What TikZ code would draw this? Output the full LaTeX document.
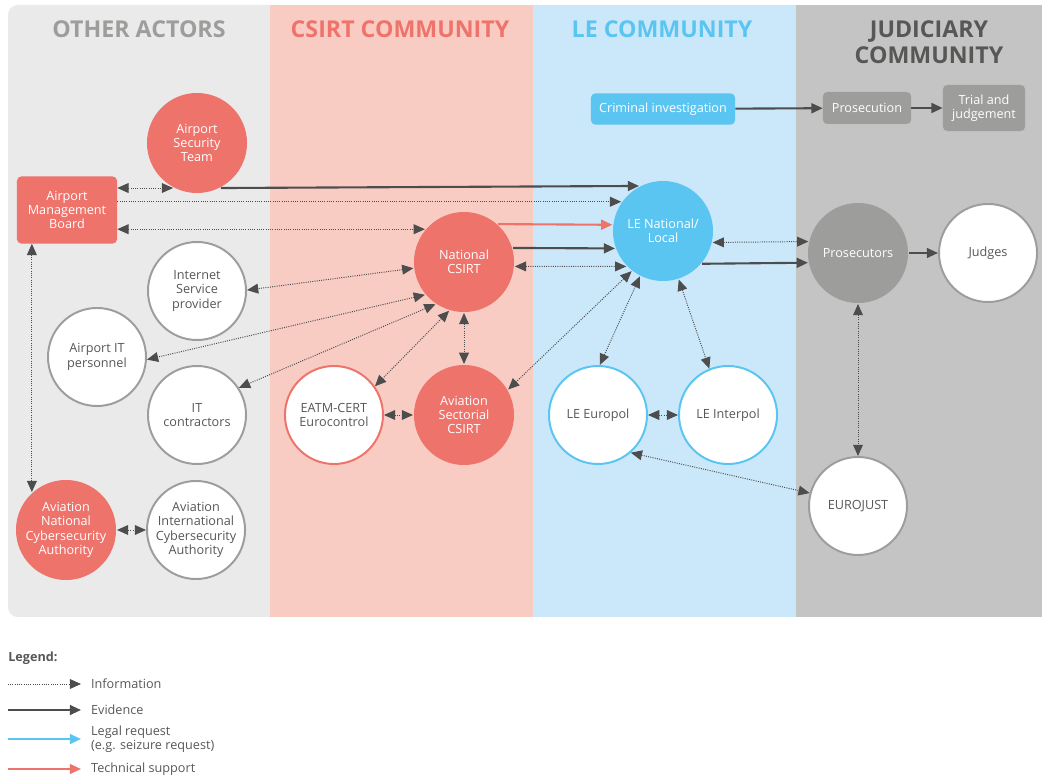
\documentclass[tikz,border=0pt]{standalone}
\usepackage{fontspec}
\setmainfont{Open Sans}
\usetikzlibrary{arrows.meta,positioning}

\definecolor{csirtred}{HTML}{EE736B}
\definecolor{leblue}{HTML}{5BC5F2}
\definecolor{judgray}{HTML}{9D9D9C}
\definecolor{darktext}{HTML}{575756}
\definecolor{arrowgray}{HTML}{4D4D4D}
\definecolor{otherpanel}{HTML}{EAEAEA}
\definecolor{csirtpanel}{HTML}{F8CCC3}
\definecolor{lepanel}{HTML}{CBE8FB}
\definecolor{judpanel}{HTML}{C4C4C4}

\newcommand{\actorfont}{\fontsize{9}{10.2}\selectfont}
\newcommand{\commtitlefont}{\fontsize{16.5}{18.5}\selectfont\bfseries}

\tikzset{
	mappicture/.style = {
		x = 0.025cm,
		y = -0.025cm,
		node distance = 3.25cm,
		font = \actorfont,
		> = {Triangle[length=8pt,width=7pt]},
		info/.style = {
			draw = arrowgray,
			line width = 0.7pt,
			dash pattern = on 0.7pt off 0.9pt,
		},
		evidence/.style = {
			draw = arrowgray,
			line width = 1.5pt,
			->,
		},
		legal/.style = {
			draw = leblue,
			line width = 1.5pt,
			->,
		},
		technical/.style = {
			draw = csirtred,
			line width = 1.5pt,
			->,
		}
	},
	actornode/.style = {
		circle,
		minimum size = 2.45cm,
		inner sep = -6pt,
		align = center,
		draw = judgray,
		line width = 1.4pt,
		fill = white,
		text = darktext
	},
	csirtnode/.style = {
		actornode,
		draw = csirtred
	},
	lenode/.style = {
		actornode,
		draw = leblue
	},
	redcircle/.style = {
		actornode,
		draw = none,
		fill = csirtred,
		minimum size = 2.5cm,
		text = white
	},
	bluecircle/.style = {
		redcircle,
		fill = leblue
	},
	graycircle/.style = {
		redcircle,
		fill = judgray
	},
	redbox/.style = {
		rectangle,
		rounded corners = 3pt,
		align = center,
		fill = csirtred,
		text = white,
		inner sep = 2pt
	},
	bluebox/.style = {
		redbox,
		fill = leblue
	},
	graybox/.style = {
		redbox,
		fill = judgray
	},
	commtitle/.style = {
		font = \commtitlefont,
		align = center
	},
	legendtext/.style = {
		anchor = west,
		align = left,
		text = darktext,
		inner xsep = 7pt
	}
}

\begin{document}
\begin{tikzpicture}[mappicture]
	\useasboundingbox (0,0) rectangle (1042,780);

	% panels
	\fill[otherpanel, rounded corners = 7pt] (8,5) rectangle (290,617);
	\fill[csirtpanel] (270,5) rectangle (533,617);
	\fill[lepanel] (533,5) rectangle (796,617);
	\fill[judpanel] (796,5) rectangle (1042,617);

	\node[commtitle, text = judgray] (othertitle) at (139,29) {OTHER ACTORS};
	\node[commtitle, text = csirtred] (csirttitle) at (400,29) {CSIRT COMMUNITY};
	\node[commtitle, text = leblue] (letitle) at (662,29) {LE COMMUNITY};
	\node[commtitle, text = darktext] (judtitle) at (929,42) {JUDICIARY\\COMMUNITY};

	% other actors
	\node[redcircle] (ast) at (197,143) {Airport\\Security\\Team};
	\node[redbox, minimum width = 2.5cm, minimum height = 1.675cm] (amb) at (67,210) {Airport\\Management\\Board};
	\node[actornode] (isp) at (197,291) {Internet\\Service\\provider};
	\node[actornode] (aitp) at (97,357) {Airport IT\\personnel};
	\node[actornode] (itc) at (197,415) {IT\\contractors};
	\node[redcircle] (anca) at (66,530) {Aviation\\National\\Cybersecurity\\Authority};
	\node[actornode, right of = anca] (aica) {Aviation\\International\\Cybersecurity\\Authority};

	% csirt community
	\node[redcircle] (ncsirt) at (464,262) {National\\CSIRT};
	\node[redcircle] (sector) at (464,415) {Aviation\\Sectorial\\CSIRT};
	\node[csirtnode, left of = sector] (eatm) {EATM-CERT\\Eurocontrol};

	% le community
	\node[bluebox, minimum width = 3.6cm, minimum height = 0.78cm] (crim) at (663,109) {Criminal investigation};
	\node[bluecircle] (le) at (663,231) {LE National/\\Local};
	\node[lenode] (europol) at (598,415) {LE Europol};
	\node[lenode, right of = europol] (interpol) {LE Interpol};

	% judiciary community
	\node[graybox, minimum width = 2.2cm, minimum height = 0.8cm] (prosec) at (867,108) {Prosecution};
	\node[graybox, minimum width = 2.05cm, minimum height = 1.15cm] (trial) at (984,108) {Trial and\\judgement};
	\node[graycircle] (pros) at (858,253) {Prosecutors};
	\node[actornode, right of = pros] (judges) {Judges};
	\node[actornode] (eurojust) at (858,506) {EUROJUST};

	\begin{scope}[every path/.style = info]
		\path[<->] (amb.east |- ast.242) -- (ast.242);
		\path[->] (amb.east |- le.145) -- (le.145);
		\path[<->] (amb.east |- ncsirt.140) -- (ncsirt.140);
		\path[<->] (anca.132 |- amb.south) -- (anca.132);
		\path[<->] (anca) -- (aica);
		\path[<->] (ncsirt.187) -- (isp.1);
		\path[<->] (ncsirt.220) -- (aitp.357);
		\path[<->] (ncsirt.236) -- (itc.33);
		\path[<->] (ncsirt.253) -- (eatm.35);
		\path[<->] (ncsirt) -- (sector);
		\path[<->] (eatm) -- (sector);
		\path[<->] (ncsirt.355) -- (le.224);
		\path[<->] (le.232) -- (sector.30);
		\path[<->] (le.243) -- (europol.88);
		\path[<->] (le.288) -- (interpol.112);
		\path[<->] (europol) -- (interpol);
		\path[<->] (europol.311) -- (eurojust.165);
		\path[<->] (le.347) -- (pros.167);
		\path[<->] (pros) -- (eurojust);
	\end{scope}

	\path[evidence] (ast.298) -- (le.118);
	\path[technical] (ncsirt.48) -- (le.173);
	\path[evidence] (ncsirt.16) -- (le.200);
	\path[evidence] (le.320) -- (pros.191);
	\path[evidence] (pros) -- (judges);
	\path[evidence] (crim) -- (prosec);
	\path[evidence] (prosec) -- (trial);

	% legend
	\node[legendtext, inner xsep = 0pt, font = \actorfont\bfseries] (legend) at (8,658) {Legend:};
	\coordinate (infostart) at (8,684);
	\node[legendtext] (infotext) at (81,684) {Information};
	\coordinate (evidstart) at (8,710);
	\node[legendtext] (evidtext) at (81,710) {Evidence};
	\coordinate (legalstart) at (8,739);
	\node[legendtext] (legaltext) at (81,739) {Legal request\\(e.g. seizure request)};
	\coordinate (techstart) at (8,769);
	\node[legendtext] (techtext) at (81,769) {Technical support};

	\path[info, ->] (infostart) -- (infotext.west);
	\path[evidence] (evidstart) -- (evidtext.west);
	\path[legal] (legalstart) -- (legaltext.west);
	\path[technical] (techstart) -- (techtext.west);
\end{tikzpicture}
\end{document}
